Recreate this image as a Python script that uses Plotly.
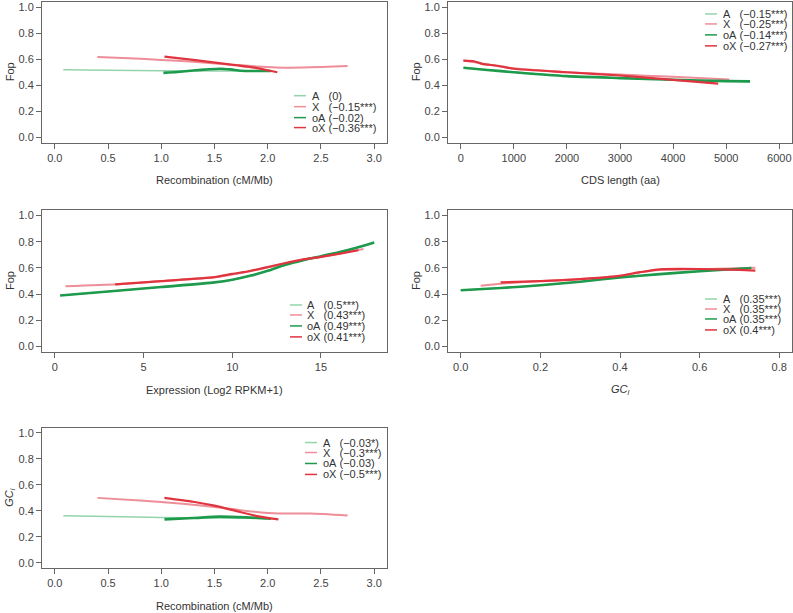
import plotly.graph_objects as go

W, H = 793, 613

# ---------------- data ----------------
# Panel 1: Fop vs Recombination
p1_A_x = [0.08, 0.5, 1.0, 1.5, 2.0]
p1_A_y = [0.52, 0.515, 0.512, 0.51, 0.51]
p1_X_x = [0.40, 0.7, 1.0, 1.3, 1.6, 1.9, 2.2, 2.5, 2.75]
p1_X_y = [0.618, 0.607, 0.595, 0.58, 0.562, 0.545, 0.535, 0.54, 0.548]
p1_oA_x = [1.02, 1.15, 1.3, 1.45, 1.55, 1.65, 1.75, 1.9, 2.03]
p1_oA_y = [0.495, 0.502, 0.513, 0.523, 0.527, 0.522, 0.512, 0.51, 0.51]
p1_oX_x = [1.03, 1.3, 1.6, 1.9, 2.09]
p1_oX_y = [0.62, 0.595, 0.565, 0.532, 0.50]

# Panel 2: Fop vs CDS length
p2_A_x = [50, 500, 1000, 2000, 3000, 4000, 5000, 5450]
p2_A_y = [0.535, 0.52, 0.502, 0.472, 0.456, 0.443, 0.432, 0.428]
p2_X_x = [50, 300, 500, 1000, 2000, 3000, 4000, 5060]
p2_X_y = [0.59, 0.575, 0.56, 0.53, 0.50, 0.482, 0.465, 0.444]
p2_oA_x = [50, 500, 1000, 2000, 3000, 4000, 5000, 5450]
p2_oA_y = [0.535, 0.518, 0.50, 0.47, 0.455, 0.442, 0.432, 0.43]
p2_oX_x = [50, 250, 400, 700, 1000, 2000, 3000, 4000, 4850]
p2_oX_y = [0.59, 0.585, 0.565, 0.55, 0.527, 0.50, 0.475, 0.442, 0.413]

# Panel 3: Fop vs Expression
p3_A_x = [0.3, 3, 6, 9, 10, 11, 12, 13, 14, 15, 16, 17, 18]
p3_A_y = [0.39, 0.42, 0.455, 0.49, 0.51, 0.54, 0.578, 0.625, 0.66, 0.69, 0.72, 0.755, 0.795]
p3_X_x = [0.6, 3.5, 6, 9, 10, 11, 12, 13, 14, 15, 16, 17.4]
p3_X_y = [0.46, 0.475, 0.50, 0.53, 0.55, 0.575, 0.605, 0.635, 0.66, 0.685, 0.71, 0.745]
p3_oA_x = [0.3, 3, 6, 9, 10, 11, 12, 13, 14, 15, 16, 17, 18]
p3_oA_y = [0.39, 0.42, 0.455, 0.49, 0.51, 0.54, 0.578, 0.625, 0.66, 0.69, 0.72, 0.755, 0.795]
p3_oX_x = [3.4, 6, 9, 10, 11, 12, 13, 14, 15, 16, 17.1]
p3_oX_y = [0.475, 0.50, 0.53, 0.555, 0.577, 0.607, 0.638, 0.665, 0.685, 0.708, 0.735]

# Panel 4: Fop vs GC_l
p4_A_x = [0.0, 0.1, 0.2, 0.3, 0.4, 0.5, 0.6, 0.73]
p4_A_y = [0.43, 0.447, 0.468, 0.495, 0.528, 0.553, 0.575, 0.602]
p4_X_x = [0.05, 0.1, 0.2, 0.3, 0.4, 0.45, 0.5, 0.6, 0.74]
p4_X_y = [0.465, 0.48, 0.50, 0.515, 0.54, 0.568, 0.585, 0.59, 0.602]
p4_oA_x = [0.0, 0.1, 0.2, 0.3, 0.4, 0.5, 0.6, 0.73]
p4_oA_y = [0.43, 0.447, 0.468, 0.495, 0.528, 0.553, 0.575, 0.6]
p4_oX_x = [0.1, 0.2, 0.3, 0.4, 0.45, 0.5, 0.6, 0.7, 0.74]
p4_oX_y = [0.49, 0.50, 0.515, 0.54, 0.568, 0.59, 0.592, 0.585, 0.58]

# Panel 5: GC_l vs Recombination
p5_A_x = [0.08, 0.5, 1.0, 1.5, 2.0]
p5_A_y = [0.362, 0.357, 0.35, 0.346, 0.342]
p5_X_x = [0.40, 0.8, 1.2, 1.5, 1.8, 2.1, 2.4, 2.75]
p5_X_y = [0.50, 0.48, 0.455, 0.43, 0.40, 0.38, 0.38, 0.365]
p5_oA_x = [1.03, 1.3, 1.55, 1.8, 2.03]
p5_oA_y = [0.335, 0.345, 0.356, 0.35, 0.34]
p5_oX_x = [1.03, 1.3, 1.5, 1.7, 1.9, 2.1]
p5_oX_y = [0.50, 0.47, 0.44, 0.40, 0.36, 0.335]

series_names = ["A&nbsp;&nbsp;&nbsp;", "X&nbsp;&nbsp;&nbsp;", "oA&nbsp;", "oX&nbsp;"]
legend_vals = [
    ["(0)", "(\u22120.15***)", "(\u22120.02)", "(\u22120.36***)"],
    ["(\u22120.15***)", "(\u22120.25***)", "(\u22120.14***)", "(\u22120.27***)"],
    ["(0.5***)", "(0.43***)", "(0.49***)", "(0.41***)"],
    ["(0.35***)", "(0.35***)", "(0.35***)", "(0.4***)"],
    ["(\u22120.03*)", "(\u22120.3***)", "(\u22120.03)", "(\u22120.5***)"],
]
x_titles = ["Recombination (cM/Mb)", "CDS length (aa)", "Expression (Log2 RPKM+1)",
            "<i>GC<sub>l</sub></i>", "Recombination (cM/Mb)"]
y_titles = ["Fop", "Fop", "Fop", "Fop", "<i>GC<sub>l</sub></i>"]
y_ticks = [0.0, 0.2, 0.4, 0.6, 0.8, 1.0]
y_ticklabels = ["0.0", "0.2", "0.4", "0.6", "0.8", "1.0"]
x_ticks = [
    [0.0, 0.5, 1.0, 1.5, 2.0, 2.5, 3.0],
    [0, 1000, 2000, 3000, 4000, 5000, 6000],
    [0, 5, 10, 15],
    [0.0, 0.2, 0.4, 0.6, 0.8],
    [0.0, 0.5, 1.0, 1.5, 2.0, 2.5, 3.0],
]
x_ticklabels = [
    ["0.0", "0.5", "1.0", "1.5", "2.0", "2.5", "3.0"],
    ["0", "1000", "2000", "3000", "4000", "5000", "6000"],
    ["0", "5", "10", "15"],
    ["0.0", "0.2", "0.4", "0.6", "0.8"],
    ["0.0", "0.5", "1.0", "1.5", "2.0", "2.5", "3.0"],
]

panels = [
    [(p1_A_x, p1_A_y), (p1_X_x, p1_X_y), (p1_oA_x, p1_oA_y), (p1_oX_x, p1_oX_y)],
    [(p2_A_x, p2_A_y), (p2_X_x, p2_X_y), (p2_oA_x, p2_oA_y), (p2_oX_x, p2_oX_y)],
    [(p3_A_x, p3_A_y), (p3_X_x, p3_X_y), (p3_oA_x, p3_oA_y), (p3_oX_x, p3_oX_y)],
    [(p4_A_x, p4_A_y), (p4_X_x, p4_X_y), (p4_oA_x, p4_oA_y), (p4_oX_x, p4_oX_y)],
    [(p5_A_x, p5_A_y), (p5_X_x, p5_X_y), (p5_oA_x, p5_oA_y), (p5_oX_x, p5_oX_y)],
]

# ---------------- style / layout ----------------
colors = ["#93d4ab", "#ee8e98", "#1e9a4c", "#e0343e"]
widths = [1.5, 2.0, 2.6, 2.2]
FONT = "Liberation Sans, Arial, sans-serif"
TXT = "#333333"
AX = "#666666"

# pixel boxes: (left, right, top, bottom)
boxes = [(42, 387, 1, 142), (448, 792, 1, 142), (42, 387, 210, 352),
         (448, 792, 210, 352), (42, 387, 428, 569)]
x_ranges = [[-0.12, 3.12], [-240, 6240], [-0.72, 18.72], [-0.032, 0.832], [-0.12, 3.12]]
# legend: (line x0, line x1, text x, row ys)
legends = [
    (294, 306, 311, [95, 106, 117, 127]),
    (705, 717, 722, [13, 23, 34, 45]),
    (290, 302, 306, [305, 315, 326, 337]),
    (705, 717, 722, [299, 309, 319, 330]),
    (305, 317, 322, [443, 453, 464, 475]),
]


def px(x):
    return x / W


def py(y):
    return 1 - y / H


fig = go.Figure()
annotations = []
shapes = []

for i, (series, box) in enumerate(zip(panels, boxes)):
    n = "" if i == 0 else str(i + 1)
    for k, (xs, ys) in enumerate(series):
        fig.add_trace(go.Scatter(
            x=xs, y=ys, mode="lines",
            line=dict(color=colors[k], width=widths[k], shape="spline", smoothing=0.6),
            showlegend=False, xaxis="x" + n, yaxis="y" + n, hoverinfo="skip"))
    l, r, t, b = box
    common = dict(showline=True, mirror=True, linecolor=AX, linewidth=1, ticks="outside",
                  ticklen=5, tickcolor=AX, showgrid=False, zeroline=False,
                  tickfont=dict(family=FONT, size=11, color="#444444"))
    fig.layout["xaxis" + n] = dict(domain=[px(l), px(r)], range=x_ranges[i], anchor="y" + n,
                                   tickvals=x_ticks[i], ticktext=x_ticklabels[i], **common)
    fig.layout["yaxis" + n] = dict(domain=[py(b), py(t)], range=[-0.04, 1.04], anchor="x" + n,
                                   tickvals=y_ticks, ticktext=y_ticklabels, **common)
    # axis titles
    annotations.append(dict(x=px((l + r) / 2), y=py(b + 38), xref="paper", yref="paper",
                            text=x_titles[i], showarrow=False, xanchor="center", yanchor="middle",
                            font=dict(family=FONT, size=11, color=TXT)))
    annotations.append(dict(x=px(l - 32), y=py((t + b) / 2), xref="paper", yref="paper",
                            text=y_titles[i], showarrow=False, textangle=-90,
                            xanchor="center", yanchor="middle",
                            font=dict(family=FONT, size=11, color=TXT)))
    # legend
    lx0, lx1, tx, rows = legends[i]
    for k in range(4):
        shapes.append(dict(type="line", xref="paper", yref="paper",
                           x0=px(lx0), x1=px(lx1), y0=py(rows[k]), y1=py(rows[k]),
                           line=dict(color=colors[k], width=1.5)))
        annotations.append(dict(x=px(tx), y=py(rows[k]), xref="paper", yref="paper",
                                text=series_names[k] + legend_vals[i][k], showarrow=False,
                                xanchor="left", yanchor="middle", borderpad=0,
                                font=dict(family=FONT, size=11, color=TXT)))

fig.update_layout(width=W, height=H, margin=dict(l=0, r=0, t=0, b=0),
                  paper_bgcolor="white", plot_bgcolor="white",
                  annotations=annotations, shapes=shapes, showlegend=False)

fig.write_html("out.html", config={"displayModeBar": False},
               post_script="document.body.style.margin='0';document.body.style.overflow='hidden';")
